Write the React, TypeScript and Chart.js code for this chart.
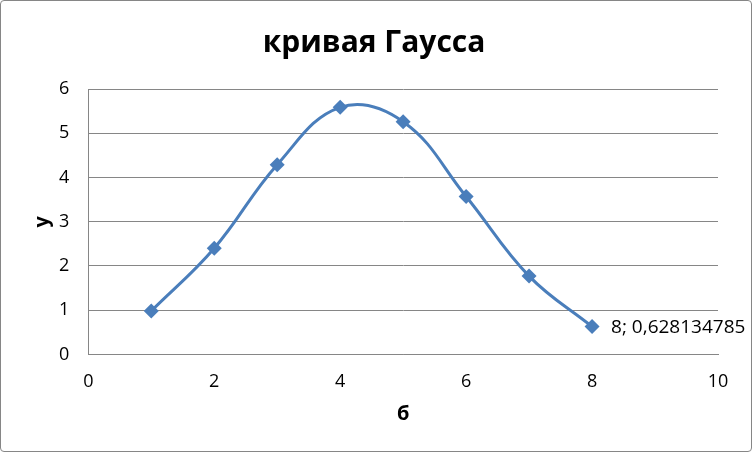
import React, { useEffect, useRef } from "react";
import { Chart, registerables } from "chart.js";

Chart.register(...registerables);

const xValues = [1, 2, 3, 4, 5, 6, 7, 8];
const yValues = [0.98, 2.4, 4.29, 5.585, 5.26, 3.57, 1.77, 0.628134785];
const titleText = "кривая Гаусса";
const xTitle = "б";
const yTitle = "y";
const lastLabel = "8; 0,628134785";

const FONT = "'Open Sans', 'Noto Sans', sans-serif";
const BLUE = "#4a7ebb";

const labelPlugin = {
  id: "lastLabel",
  afterDatasetsDraw(chart: any) {
    const meta = chart.getDatasetMeta(0);
    const pt = meta.data[meta.data.length - 1];
    if (!pt) return;
    const ctx = chart.ctx;
    ctx.save();
    ctx.font = `19px ${FONT}`;
    ctx.fillStyle = "#000";
    ctx.textAlign = "left";
    ctx.textBaseline = "middle";
    ctx.fillText(lastLabel, pt.x + 19, pt.y + 1);
    ctx.restore();
  },
};

export default function App() {
  const ref = useRef<HTMLCanvasElement>(null);
  useEffect(() => {
    document.body.style.margin = "0";
    const chart = new Chart(ref.current!, {
      type: "line",
      data: {
        datasets: [
          {
            data: xValues.map((x, i) => ({ x, y: yValues[i] })),
            borderColor: BLUE,
            backgroundColor: BLUE,
            borderWidth: 3,
            tension: 0.4,
            pointStyle: "rectRot",
            pointRadius: 7.5,
            pointBorderWidth: 0,
            pointBackgroundColor: BLUE,
          },
        ],
      },
      options: {
        responsive: false,
        animation: false,
        layout: { padding: { left: 29, right: 33, top: 0, bottom: 24.5 } },
        plugins: {
          legend: { display: false },
          tooltip: { enabled: false },
          title: {
            display: true,
            text: titleText,
            color: "#000",
            font: { family: FONT, size: 30, weight: "bold" },
            padding: { top: 24.5, bottom: 27.5 },
          },
        },
        scales: {
          x: {
            type: "linear",
            min: 0,
            max: 10,
            ticks: { stepSize: 2, color: "#000", font: { family: FONT, size: 18 }, padding: 17 },
            grid: { display: false, drawTicks: false },
            border: { display: true, color: "#868686", width: 1 },
            title: {
              display: true,
              text: xTitle,
              color: "#000",
              font: { family: FONT, size: 20, weight: "bold" },
              padding: { top: -7.5, bottom: 0 },
            },
          },
          y: {
            min: 0,
            max: 6,
            ticks: { stepSize: 1, color: "#000", font: { family: FONT, size: 18 }, padding: 19 },
            grid: { color: "#868686", drawTicks: false },
            border: { display: true, color: "#868686", width: 1 },
            title: {
              display: true,
              text: yTitle,
              color: "#000",
              font: { family: FONT, size: 20, weight: "bold" },
              padding: { top: 0, bottom: -14 },
            },
          },
        },
      },
      plugins: [labelPlugin],
    });
    return () => chart.destroy();
  }, []);
  return (
    <div
      style={{
        width: 752,
        height: 452,
        boxSizing: "border-box",
        border: "1px solid #868686",
        borderRadius: 4,
        background: "#fff",
        overflow: "hidden",
      }}
    >
      <canvas ref={ref} width={750} height={450} style={{ display: "block" }} />
    </div>
  );
}
